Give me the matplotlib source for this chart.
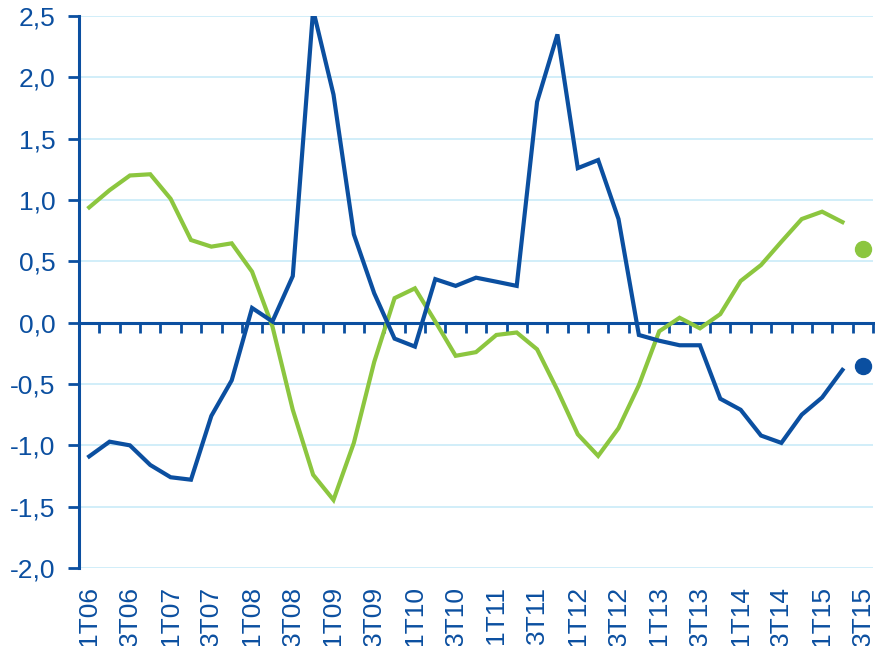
import matplotlib
matplotlib.use("Agg")
import matplotlib.pyplot as plt
from matplotlib.ticker import FixedLocator, FuncFormatter

quarters = []
for yr in range(6, 16):
    for q in range(1, 5):
        quarters.append(f"{q}T{yr:02d}")
quarters = quarters[:39]  # 1T06 .. 3T15

blue_vals = [-1.09, -0.97, -1.00, -1.16, -1.26, -1.28, -0.76, -0.47, 0.12, 0.01,
             0.38, 2.55, 1.86, 0.72, 0.24, -0.13, -0.195, 0.355, 0.30, 0.367,
             0.334, 0.30, 1.80, 2.35, 1.26, 1.326, 0.845, -0.10, -0.147, -0.184,
             -0.184, -0.62, -0.71, -0.92, -0.98, -0.75, -0.61, -0.385]
green_vals = [0.94, 1.08, 1.20, 1.21, 1.01, 0.674, 0.62, 0.647, 0.416, -0.03,
              -0.71, -1.24, -1.445, -0.98, -0.32, 0.20, 0.28, 0.01, -0.27, -0.24,
              -0.10, -0.08, -0.217, -0.55, -0.91, -1.086, -0.86, -0.51, -0.07, 0.04,
              -0.046, 0.07, 0.34, 0.47, 0.66, 0.845, 0.905, 0.82]
blue_last = -0.35
green_last = 0.60

BLUE = "#0b4fa0"
GREEN = "#8cc63f"
GRID = "#c9ebf8"
TEXT = "#0b4fa0"

plt.rcParams['font.family'] = ['Liberation Sans', 'DejaVu Sans']

fig = plt.figure(figsize=(8.75, 6.46), dpi=100)
ax = fig.add_axes([0.0903, 0.1207, 0.9074, 0.8545])

x = list(range(len(quarters)))
ax.plot(x[:len(green_vals)], green_vals, color=GREEN, lw=3.0, zorder=3,
        solid_joinstyle='miter')
ax.plot(x[:len(blue_vals)], blue_vals, color=BLUE, lw=3.0, zorder=4,
        solid_joinstyle='miter')
ax.plot([x[-1]], [green_last], 'o', color=GREEN, ms=11.5, zorder=5)
ax.plot([x[-1]], [blue_last], 'o', color=BLUE, ms=11.5, zorder=5)

ax.set_xlim(-0.5, len(quarters) - 0.5)
ax.set_ylim(-2.0, 2.5)

yt = [-2.0, -1.5, -1.0, -0.5, 0.0, 0.5, 1.0, 1.5, 2.0, 2.5]
ax.set_yticks(yt)
ax.yaxis.set_major_formatter(FuncFormatter(lambda v, p: f"{v:.1f}".replace('.', ',')))
ax.tick_params(axis='y', direction='out', length=8, width=2, color=BLUE,
               labelsize=19, labelcolor=TEXT, pad=9)
ax.grid(axis='y', color=GRID, lw=1.2, zorder=0)
ax.set_axisbelow(True)

for s in ['top', 'right']:
    ax.spines[s].set_visible(False)
ax.spines['left'].set_color(BLUE)
ax.spines['left'].set_linewidth(2.2)
ax.spines['bottom'].set_position(('data', 0))
ax.spines['bottom'].set_color(BLUE)
ax.spines['bottom'].set_linewidth(2.2)
ax.spines['bottom'].set_zorder(2)

bounds = [i - 0.5 for i in range(len(quarters) + 1)]
ax.xaxis.set_major_locator(FixedLocator(bounds))
ax.tick_params(axis='x', direction='out', length=7, width=2, color=BLUE,
               labelbottom=False)

ax2 = ax.twiny()
ax2.set_xlim(ax.get_xlim())
ax2.xaxis.set_ticks_position('bottom')
ax2.xaxis.set_label_position('bottom')
ax2.set_xticks(x[::2])
ax2.set_xticklabels(quarters[::2], rotation=90, fontsize=19, color=TEXT)
ax2.tick_params(axis='x', length=0, pad=13)
for s in ax2.spines.values():
    s.set_visible(False)

fig.savefig("out.png", dpi=100)
